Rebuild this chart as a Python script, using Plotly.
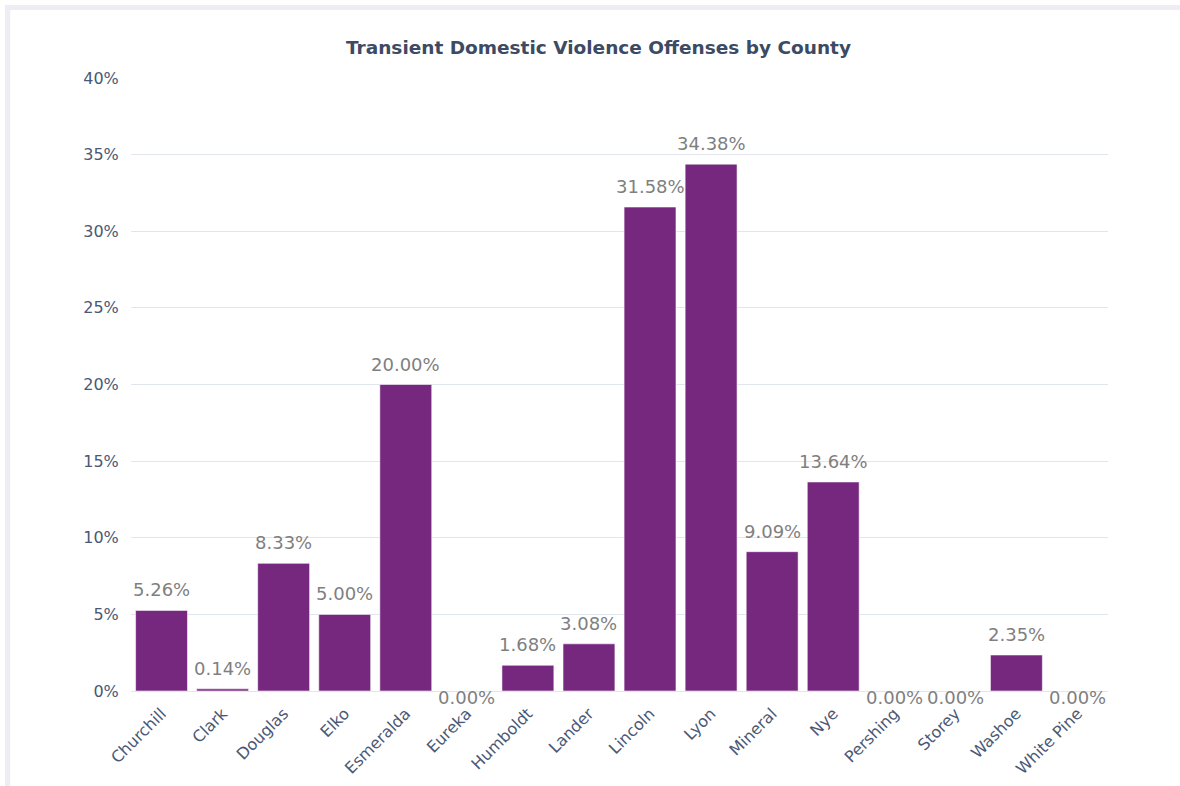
import plotly.graph_objects as go

# Share of domestic violence offenses that were transient, by Nevada county (%)
counties = ["Churchill", "Clark", "Douglas", "Elko", "Esmeralda", "Eureka",
            "Humboldt", "Lander", "Lincoln", "Lyon", "Mineral", "Nye",
            "Pershing", "Storey", "Washoe", "White Pine"]
shares = [5.26, 0.14, 8.33, 5.00, 20.00, 0.00,
          1.68, 3.08, 31.58, 34.38, 9.09, 13.64,
          0.00, 0.00, 2.35, 0.00]
y_ticks = [0, 5, 10, 15, 20, 25, 30, 35, 40]
y_tick_labels = [f"{v}%" for v in y_ticks]

FONT = "DejaVu Sans"
BAR = "#76287f"
LABEL = "#7f7f7f"
AXIS_TEXT = "#4a5875"

fig = go.Figure(
    go.Bar(
        x=counties,
        y=shares,
        marker=dict(color=BAR, line=dict(color="rgba(255,255,255,0.55)", width=1)),
        hoverinfo="x+y",
    )
)

# Value labels above each bar; empty bars get their label on the baseline
annotations = []
for name, val in zip(counties, shares):
    annotations.append(dict(
        x=name, y=val, xref="x", yref="y",
        text=f"{val:.2f}%",
        showarrow=False,
        yanchor="bottom" if val > 0 else "middle",
        yshift=8 if val > 0 else -6,
        font=dict(family=FONT, size=18, color=LABEL),
    ))

# Title, placed 47 px below the top of the page
annotations.append(dict(
    x=0.478, y=(691 - 47) / 613, xref="paper", yref="paper",
    text="<b>Transient Domestic Violence Offenses by County</b>",
    showarrow=False, xanchor="center", yanchor="middle",
    font=dict(family=FONT, size=18.5, color="#3d4a63"),
))

fig.update_layout(
    width=1180, height=786,
    margin=dict(l=131, r=72, t=78, b=95),
    paper_bgcolor="white",
    plot_bgcolor="white",
    bargap=0.15,
    showlegend=False,
    annotations=annotations,
    xaxis=dict(
        automargin=False,
        tickangle=-45,
        tickfont=dict(family=FONT, size=16, color=AXIS_TEXT),
        showgrid=False,
        showline=False,
        ticks="outside",
        ticklen=6,
        tickcolor="rgba(0,0,0,0)",
    ),
    yaxis=dict(
        automargin=False,
        range=[0, 40],
        tickvals=y_ticks,
        ticktext=y_tick_labels,
        tickfont=dict(family=FONT, size=16, color=AXIS_TEXT),
        gridcolor="#e1e5ee",
        gridwidth=1,
        zeroline=True,
        zerolinecolor="#e1e5ee",
        zerolinewidth=1,
        showline=False,
        ticks="outside",
        ticklen=8,
        tickcolor="rgba(0,0,0,0)",
    ),
    shapes=[
        # light frame along the top and left edges of the card
        dict(type="rect", xref="paper", yref="paper",
             x0=-0.129, x1=1.08, y0=1.111, y1=1.119,
             fillcolor="#efedf3", line=dict(width=0), layer="below"),
        dict(type="rect", xref="paper", yref="paper",
             x0=-0.129, x1=-0.1236, y0=-0.155, y1=1.119,
             fillcolor="#efedf3", line=dict(width=0), layer="below"),
    ],
)

fig.write_html("out.html")
